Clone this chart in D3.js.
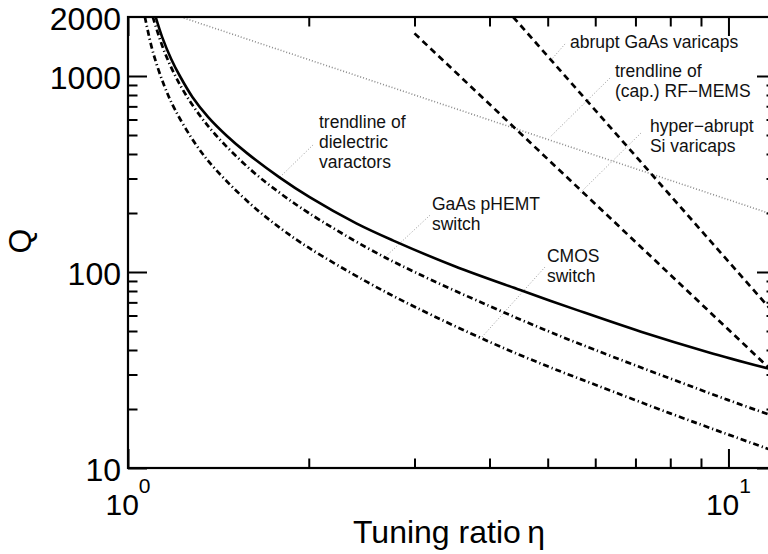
<!DOCTYPE html>
<html>
<head>
<meta charset="utf-8">
<script src="https://cdn.jsdelivr.net/npm/d3@7"></script>
<style>
  body { margin: 0; background: #fff; overflow: hidden; }
  svg { display: block; font-family: "Liberation Sans", Arial, sans-serif; }
</style>
</head>
<body>
<div id="chart"></div>
<script>
/*************** DATA ***************/
// solid curve: trendline of dielectric varactors
var dielEta = [1.112, 1.14, 1.18, 1.22, 1.28, 1.36, 1.46, 1.58, 1.79, 2.01, 2.4, 2.76, 3.5, 4.5, 5.6, 7.15, 9.25, 12];
var dielQ   = [2000, 1579, 1222, 1000, 782, 617, 496, 403, 303, 240, 177, 145, 107, 80.9, 63.9, 49.6, 39.0, 31.4];

// dash-dot: GaAs pHEMT switch
var phemtEta = [1.1, 1.15, 1.22, 1.3, 1.4, 1.6, 1.8, 2, 2.5, 3, 4, 5, 6, 8, 10, 12];
var phemtQ   = [2000, 1330, 905, 665, 500, 333, 250, 200, 133, 100, 67, 50, 40, 28.6, 22.2, 18.2];

// dash-dot: CMOS switch
var cmosEta = [1.067, 1.1, 1.15, 1.2, 1.3, 1.4, 1.6, 1.8, 2, 2.5, 3, 4, 5, 6, 8, 10, 12];
var cmosQ   = [2000, 1330, 887, 665, 443, 333, 222, 166, 133, 89, 66.5, 44, 33, 26.6, 19, 14.8, 12.1];

// dashed: varicaps, dotted grey: RF-MEMS trendline
var hyperEta  = [3, 12];     var hyperQ  = [1650, 30];
var abruptEta = [4.38, 12];  var abruptQ = [2000, 60];
var memsEta   = [1.225, 12]; var memsQ   = [2000, 194];

// ticks
var xMajor = [1, 10];
var xMinor = [2, 3, 4, 5, 6, 7, 8, 9];
var yMajor = [10, 100, 1000];
var yMinor = [20, 30, 40, 50, 60, 70, 80, 90, 200, 300, 400, 500, 600, 700, 800, 900];
var yLabels = [10, 100, 1000, 2000];

// annotations: text lines, anchor (eta, Q), leader from / to (eta, Q)
var noteText = [
  ['trendline of', 'dielectric', 'varactors'],
  ['GaAs pHEMT', 'switch'],
  ['CMOS', 'switch'],
  ['trendline of', '(cap.) RF\u2212MEMS'],
  ['hyper\u2212abrupt', 'Si varicaps'],
  ['abrupt GaAs varicaps']
];
var noteAt     = [[2.08, 543], [3.208, 207], [4.986, 112.5], [6.47, 988], [7.40, 518], [5.445, 1390]];
var leaderFrom = [[2.033, 445], [3.184, 195], [4.948, 106], [6.35, 977], [7.15, 512], [5.343, 1457]];
var leaderTo   = [[1.791, 305], [2.679, 119], [3.886, 46.6], [5.045, 488], [5.66, 253], [5.064, 1206]];

/*************** CHART ***************/
var width = 768, height = 554;
var mLeft = 128, mRight = 776, mTop = 17, mBottom = 468;

var x = d3.scaleLog().domain([1, 12]).range([mLeft, mRight]);
var y = d3.scaleLog().domain([10, 2000]).range([mBottom, mTop]);

var svg = d3.select('#chart').append('svg')
  .attr('width', width)
  .attr('height', height);

svg.append('clipPath').attr('id', 'plot')
  .append('rect')
  .attr('x', mLeft).attr('y', mTop)
  .attr('width', mRight - mLeft).attr('height', mBottom - mTop);

var plot = svg.append('g').attr('clip-path', 'url(#plot)');

function zip(a, b) { return a.map((d, i) => [d, b[i]]); }

var line = d3.line()
  .x(d => x(d[0]))
  .y(d => y(d[1]))
  .curve(d3.curveCatmullRom.alpha(0.5));

// grey RF-MEMS trendline
plot.append('path')
  .attr('d', line(zip(memsEta, memsQ)))
  .attr('fill', 'none')
  .attr('stroke', '#8a8a8a')
  .attr('stroke-width', 1.6)
  .attr('stroke-dasharray', '1,2');

// leader lines
leaderFrom.forEach((d, i) => {
  plot.append('line')
    .attr('x1', x(d[0])).attr('y1', y(d[1]))
    .attr('x2', x(leaderTo[i][0])).attr('y2', y(leaderTo[i][1]))
    .attr('stroke', '#9a9a9a')
    .attr('stroke-width', 1)
    .attr('stroke-dasharray', '1,2');
});

// varicaps
[[hyperEta, hyperQ], [abruptEta, abruptQ]].forEach(s => {
  plot.append('path')
    .attr('d', line(zip(s[0], s[1])))
    .attr('fill', 'none')
    .attr('stroke', '#000')
    .attr('stroke-width', 2.7)
    .attr('stroke-dasharray', '6.5,4.5');
});

// switches
[[phemtEta, phemtQ], [cmosEta, cmosQ]].forEach(s => {
  plot.append('path')
    .attr('d', line(zip(s[0], s[1])))
    .attr('fill', 'none')
    .attr('stroke', '#000')
    .attr('stroke-width', 2.7)
    .attr('stroke-dasharray', '6,3,1.2,3');
});

// dielectric varactors
plot.append('path')
  .attr('d', line(zip(dielEta, dielQ)))
  .attr('fill', 'none')
  .attr('stroke', '#000')
  .attr('stroke-width', 2.6);

// annotation texts
noteText.forEach((lines, i) => {
  var t = svg.append('text')
    .attr('x', x(noteAt[i][0]))
    .attr('y', y(noteAt[i][1]))
    .attr('font-size', '17.5px')
    .attr('fill', '#111');
  lines.forEach((s, j) => {
    t.append('tspan')
      .attr('x', x(noteAt[i][0]))
      .attr('dy', j === 0 ? 0 : 20)
      .text(s);
  });
});

// ticks on all four sides
function tickSet(axis, vals, size, transform) {
  svg.append('g')
    .attr('transform', transform)
    .call(axis.tickValues(vals).tickSize(size).tickFormat(''))
    .call(g => g.select('.domain').remove())
    .call(g => g.selectAll('line').attr('stroke-width', 2));
}
tickSet(d3.axisBottom(x), xMajor, -19, `translate(0,${mBottom})`);
tickSet(d3.axisBottom(x), xMinor, -9.5, `translate(0,${mBottom})`);
tickSet(d3.axisTop(x), xMajor, -19, `translate(0,${mTop})`);
tickSet(d3.axisTop(x), xMinor, -9.5, `translate(0,${mTop})`);
tickSet(d3.axisLeft(y), yMajor, -19, `translate(${mLeft},0)`);
tickSet(d3.axisLeft(y), yMinor, -9.5, `translate(${mLeft},0)`);
tickSet(d3.axisRight(y), yMajor, -19, `translate(${mRight},0)`);
tickSet(d3.axisRight(y), yMinor, -9.5, `translate(${mRight},0)`);

// frame
svg.append('rect')
  .attr('x', mLeft).attr('y', mTop)
  .attr('width', mRight - mLeft).attr('height', mBottom - mTop)
  .attr('fill', 'none')
  .attr('stroke', '#000')
  .attr('stroke-width', 2.2);

// y tick labels
svg.selectAll('.ylab')
  .data(yLabels)
  .enter()
  .append('text')
  .attr('x', mLeft - 7)
  .attr('y', d => y(d))
  .attr('dy', '0.42em')
  .attr('text-anchor', 'end')
  .attr('font-size', '32px')
  .text(d => d);

// x tick labels with superscript exponent
var xl = svg.selectAll('.xlab')
  .data(xMajor)
  .enter()
  .append('text')
  .attr('x', d => x(d))
  .attr('y', 515)
  .attr('text-anchor', 'middle');
xl.append('tspan').attr('font-size', '30px').text('10');
xl.append('tspan').attr('font-size', '21px').attr('dy', -22).text(d => Math.round(Math.log10(d)));

// axis titles
svg.append('text')
  .attr('x', 449)
  .attr('y', 543)
  .attr('text-anchor', 'middle')
  .attr('font-size', '32px')
  .text('Tuning ratio\u2009\u03b7');

svg.append('text')
  .attr('transform', 'translate(31,241) rotate(-90)')
  .attr('text-anchor', 'middle')
  .attr('font-size', '32px')
  .text('Q');
</script>
</body>
</html>
